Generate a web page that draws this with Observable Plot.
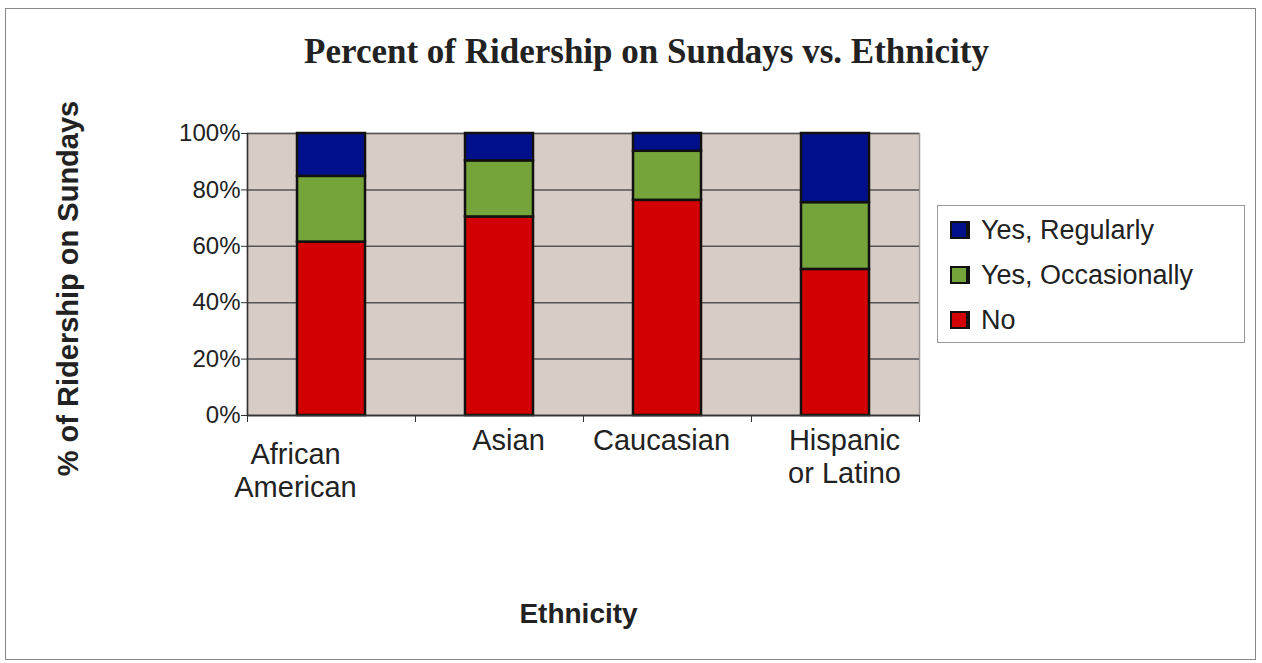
<!DOCTYPE html>
<html>
<head>
<meta charset="utf-8">
<script src="https://cdn.jsdelivr.net/npm/d3@7"></script>
<script src="https://cdn.jsdelivr.net/npm/@observablehq/plot@0.6"></script>
<style>
  html, body { margin: 0; padding: 0; background: #fff; }
  #wrap { position: relative; width: 1262px; height: 663px; overflow: hidden; font-family: "Liberation Sans", Arial, sans-serif; }
  #border { position: absolute; left: 5px; top: 8px; width: 1251px; height: 652px; border: 1.5px solid #888; box-sizing: border-box; pointer-events: none; }
  #title { position: absolute; left: 0; width: 1293px; top: 32px; line-height: 40px; text-align: center; font-family: "Liberation Serif", "Times New Roman", serif; font-weight: bold; font-size: 35px; color: #222; }
  #legend { position: absolute; left: 937px; top: 205px; width: 308px; height: 138px; border: 1.5px solid #999; box-sizing: border-box; background: #fff; }
  .item { position: absolute; left: 12px; height: 30px; display: flex; align-items: center; font-size: 27px; color: #222; }
  .sw { width: 20px; height: 18px; border: 2px solid #111; border-right-width: 4px; margin-right: 11px; box-sizing: border-box; }
</style>
</head>
<body>
<div id="wrap">
  <div id="border"></div>
  <div id="title">Percent of Ridership on Sundays vs. Ethnicity</div>
  <div id="chart"></div>
  <div id="legend"></div>
</div>
<script>
const categories = ["African American", "Asian", "Caucasian", "Hispanic or Latino"];
const seriesNames = ["No", "Yes, Occasionally", "Yes, Regularly"];
const noValues = [0.615, 0.704, 0.763, 0.518];
const occasionalValues = [0.233, 0.199, 0.174, 0.237];
const regularValues = [0.152, 0.097, 0.063, 0.245];
const seriesColors = ["#d20000", "#74a43a", "#00108a"];
const yTicks = [0, 0.2, 0.4, 0.6, 0.8, 1];

const rows = [];
categories.forEach((c, i) => {
  rows.push({category: c, series: seriesNames[0], value: noValues[i]});
  rows.push({category: c, series: seriesNames[1], value: occasionalValues[i]});
  rows.push({category: c, series: seriesNames[2], value: regularValues[i]});
});

const font = "'Liberation Sans', Arial, sans-serif";
const labelStyle = {x: d => d, y: 0, text: d => d, lineWidth: 5, lineAnchor: "top", lineHeight: 1.14, fontSize: 29, fill: "#222"};

const chart = Plot.plot({
  width: 1262,
  height: 663,
  marginLeft: 247,
  marginRight: 343,
  marginTop: 133,
  marginBottom: 248,
  style: {fontFamily: font, fontSize: "24px", color: "#222", background: "transparent"},
  x: {domain: categories, paddingInner: 0.594, paddingOuter: 0.297},
  y: {domain: [0, 1]},
  color: {domain: seriesNames, range: seriesColors},
  marks: [
    Plot.frame({fill: "#d8ccc6", stroke: "#a09a98", strokeWidth: 1.5}),
    Plot.gridY(yTicks, {stroke: "#555", strokeOpacity: 1, strokeWidth: 1.5}),
    Plot.barY(rows, {x: "category", y: "value", fill: "series", stroke: "#111", strokeWidth: 2.5}),
    Plot.frame({anchor: "left", stroke: "#333", strokeWidth: 1.5}),
    Plot.ruleY([0], {stroke: "#333", strokeWidth: 1.5}),
    Plot.axisY(yTicks, {tickFormat: d3.format(".0%"), tickSize: 6, tickPadding: 1, fontSize: 24, label: null, stroke: "#333"}),
    Plot.axisX(categories, {tickSize: 7, dx: -84, text: null, label: null, stroke: "#333"}),
    Plot.axisX([categories[categories.length - 1]], {tickSize: 7, dx: 84, text: null, label: null, stroke: "#333"}),
    Plot.text([categories[0]], {...labelStyle, dy: 25, dx: -36}),
    Plot.text([categories[1], categories[3]], {...labelStyle, dy: 11, dx: 9}),
    Plot.text([categories[2]], {...labelStyle, dy: 11, dx: -6}),
    Plot.text(["% of Ridership on Sundays"], {frameAnchor: "left", textAnchor: "middle", dx: -179, dy: 14, text: d => d, rotate: -90, fontSize: 29, fontWeight: "bold", fill: "#222"}),
    Plot.text(["Ethnicity"], {frameAnchor: "bottom", dy: 207, dx: -5, text: d => d, fontSize: 28, fontWeight: "bold", fill: "#222"})
  ]
});
document.getElementById("chart").appendChild(chart);

const legend = document.getElementById("legend");
const legendOrder = [2, 1, 0];
legendOrder.forEach((k, j) => {
  const it = document.createElement("div");
  it.className = "item";
  it.style.top = (9 + j * 45) + "px";
  const sw = document.createElement("div");
  sw.className = "sw";
  sw.style.background = seriesColors[k];
  const label = document.createElement("span");
  label.textContent = seriesNames[k];
  it.appendChild(sw);
  it.appendChild(label);
  legend.appendChild(it);
});
</script>
</body>
</html>
